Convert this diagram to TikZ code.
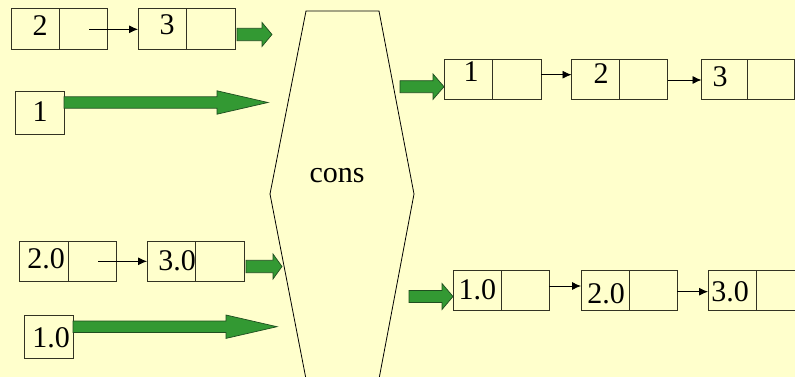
\documentclass[tikz,border=0pt]{standalone}
\usepackage{fontspec}
\setmainfont{Liberation Serif}
\usetikzlibrary{arrows.meta}
\definecolor{bg}{HTML}{FFFFCC}
\definecolor{gfill}{HTML}{339933}
\definecolor{gline}{HTML}{1F4D1F}
\definecolor{bline}{HTML}{333322}
\tikzset{
  cell/.style={draw=bline, line width=0.8pt, inner sep=0pt, outer sep=0pt, minimum width=48pt, minimum height=41pt},
  lbl/.style={inner sep=0pt, font=\fontsize{30}{34}\selectfont},
  link/.style={draw=black, line width=0.8pt, -{Latex[length=9pt,width=8pt]}},
  garr/.style={fill=gfill, draw=gline, line width=0.7pt, line join=miter},
  hexa/.style={draw=black, line width=0.8pt, fill=bg}
}
\newcommand\garrow[6]{% start, base, tip, cy, shaft half, head half
  \path[garr] (#1,#4-#5) -- (#2,#4-#5) -- (#2,#4-#6) -- (#3,#4) -- (#2,#4+#6) -- (#2,#4+#5) -- (#1,#4+#5) -- cycle;}
\begin{document}
\begin{tikzpicture}[x=1pt,y=-1pt]
\useasboundingbox (0,0) rectangle (795,377);
\fill[bg] (0,0) rectangle (795,377);
\clip (0,0) rectangle (795,377);
% cons hexagon
\path[hexa] (306,11) -- (379,11) -- (414,194) -- (379,379) -- (306,379) -- (270,194) -- cycle;
\node[lbl] (cons) at (337,176) {cons};
% top-left list 2 -> 3
\node[cell] (c2a) at (35,28.5) {};
\node[cell] (c2b) at (83,28.5) {};
\node[cell] (c3a) at (162,28.5) {};
\node[cell, minimum width=49pt] (c3b) at (210.5,28.5) {};
\node[lbl] (t2) at (40,26) {2};
\node[lbl] (t3) at (167,25) {3};
\coordinate (s23) at (89,29.3);
\draw[link] (s23) -- (s23 -| c3a.west);
\garrow{237}{262}{272}{34.5}{6.2}{12}
% single 1
\node[cell, minimum width=49pt, minimum height=43pt] (c1) at (39.5,112.5) {};
\node[lbl] (t1) at (40,112) {1};
\garrow{64}{217}{268}{102.5}{5.7}{11.7}
% bottom-left list 2.0 -> 3.0
\node[cell, minimum width=49pt, minimum height=40pt] (c20a) at (43.5,261) {};
\node[cell, minimum height=40pt] (c20b) at (92,261) {};
\node[cell, minimum height=40pt] (c30a) at (171,261) {};
\node[cell, minimum width=49pt, minimum height=40pt] (c30b) at (219.5,261) {};
\node[lbl] (t20) at (46,258.5) {2.0};
\node[lbl] (t30) at (177,261) {3.0};
\coordinate (s2030) at (98,261.3);
\draw[link] (s2030) -- (s2030 -| c30a.west);
\garrow{246}{273}{282}{266.5}{6.2}{12.5}
% single 1.0
\node[cell, minimum width=49pt, minimum height=43pt] (c10) at (48.5,336.5) {};
\node[lbl] (t10) at (51,338) {1.0};
\garrow{73}{226}{277}{326.7}{5.7}{11.7}
% right top result 1 -> 2 -> 3
\garrow{400}{433}{444}{86.7}{6}{12.7}
\node[cell, minimum height=40pt] (r1a) at (468,79) {};
\node[cell, minimum width=49pt, minimum height=40pt] (r1b) at (516.5,79) {};
\node[cell, minimum height=40pt] (r2a) at (595.5,79) {};
\node[cell, minimum height=40pt] (r2b) at (643.5,79) {};
\node[cell, minimum width=46pt, minimum height=40pt] (r3a) at (724.5,79) {};
\node[cell, minimum width=47pt, minimum height=40pt] (r3b) at (770.5,79) {};
\node[lbl] (u1) at (471,71.7) {1};
\node[lbl] (u2) at (601,74) {2};
\node[lbl] (u3) at (720,76.7) {3};
\draw[link] ([yshift=4.3pt]r1b.east) -- ([yshift=4.3pt]r2a.west);
\draw[link] ([yshift=-1pt]r2b.east) -- ([yshift=-1pt]r3a.west);
% right bottom result 1.0 -> 2.0 -> 3.0
\garrow{409}{442}{453}{296.5}{6}{13}
\node[cell, minimum height=40pt] (s1a) at (477,290) {};
\node[cell, minimum height=40pt] (s1b) at (525,290) {};
\node[cell, minimum height=40pt] (s2a) at (605,290) {};
\node[cell, minimum height=40pt] (s2b) at (653,290) {};
\node[cell, minimum height=40pt] (s3a) at (732,290) {};
\node[cell, minimum height=40pt] (s3b) at (780,290) {};
\node[lbl] (v1) at (477.3,289.3) {1.0};
\node[lbl] (v2) at (606,293.3) {2.0};
\node[lbl] (v3) at (730,291.7) {3.0};
\draw[link] ([yshift=4pt]s1b.east) -- ([yshift=4pt]s2a.west);
\draw[link] ([yshift=-1.7pt]s2b.east) -- ([yshift=-1.7pt]s3a.west);
\end{tikzpicture}
\end{document}
